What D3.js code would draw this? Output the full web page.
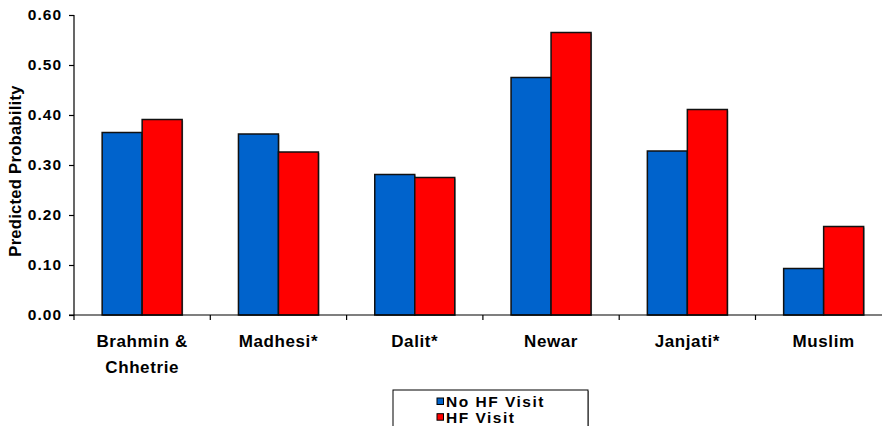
<!DOCTYPE html>
<html>
<head>
<meta charset="utf-8">
<script src="https://cdn.jsdelivr.net/npm/d3@7"></script>
<style>
  html, body { margin: 0; padding: 0; background: #fff; }
  svg { display: block; font-family: "Liberation Sans", Arial, sans-serif; font-weight: bold; }
</style>
</head>
<body>
<svg id="chart" width="882" height="426"></svg>
<script>
// Predicted probability by ethnic group, with and without a health facility visit
const categories = [["Brahmin &", "Chhetrie"], ["Madhesi*"], ["Dalit*"], ["Newar"], ["Janjati*"], ["Muslim"]];
const noVisit = [0.365, 0.362, 0.281, 0.475, 0.328, 0.093];
const visit   = [0.391, 0.326, 0.275, 0.565, 0.411, 0.177];
const seriesNames = ["No HF Visit", "HF Visit"];
const seriesColors = ["#0063CC", "#FF0000"];
const yTicks = [0, 0.1, 0.2, 0.3, 0.4, 0.5, 0.6];

const svg = d3.select("#chart");
const plotLeft = 74, plotTop = 15, plotBottom = 315, plotRight = 74 + 136.3 * 6;

const keys = categories.map((c, i) => i);
const x = d3.scaleBand().domain(keys).range([plotLeft, plotRight]).paddingInner(0).paddingOuter(0);
const x1 = d3.scaleBand().domain([0, 1]).range([0, x.bandwidth()]).paddingInner(0).paddingOuter(0.704);
const y = d3.scaleLinear().domain([0, 0.6]).range([plotBottom, plotTop]);

const rows = keys.map(i => [noVisit[i], visit[i]]);

// bars with a faint drop shadow
const groups = svg.append("g").selectAll("g").data(rows).join("g")
  .attr("transform", (d, i) => `translate(${x(i)},0)`);
groups.selectAll("rect.shadow").data(d => d).join("rect")
  .attr("class", "shadow")
  .attr("x", (d, j) => x1(j) + 1)
  .attr("y", d => y(d) + 1)
  .attr("width", x1.bandwidth())
  .attr("height", d => plotBottom - y(d))
  .attr("fill", "#a0a0a0");
groups.selectAll("rect.bar").data(d => d).join("rect")
  .attr("class", "bar")
  .attr("x", (d, j) => x1(j))
  .attr("y", d => y(d))
  .attr("width", x1.bandwidth())
  .attr("height", d => plotBottom - y(d))
  .attr("fill", (d, j) => seriesColors[j])
  .attr("stroke", "#111")
  .attr("stroke-width", 1.5);

// y axis
const yAxis = svg.append("g")
  .attr("transform", `translate(${plotLeft},0)`)
  .call(d3.axisLeft(y).tickValues(yTicks).tickFormat(d3.format(".2f")).tickSize(5).tickPadding(8));
yAxis.select(".domain").attr("stroke", "#000").attr("stroke-width", 1.2).attr("d", `M0,${plotTop}V${plotBottom}`);
yAxis.selectAll(".tick line").attr("stroke", "#000").attr("stroke-width", 1.2);
yAxis.selectAll(".tick text")
  .attr("font-family", "Liberation Sans, Arial, sans-serif")
  .attr("font-weight", "bold").attr("font-size", 15.5).attr("letter-spacing", 1)
  .attr("x", -12).attr("fill", "#000");

// x axis
const xTickPos = d3.range(categories.length + 1).map(i => plotLeft + i * x.bandwidth());
svg.append("line").attr("x1", plotLeft - 5).attr("x2", plotRight).attr("y1", plotBottom).attr("y2", plotBottom)
  .attr("stroke", "#000").attr("stroke-width", 1.2);
svg.append("g").selectAll("line").data(xTickPos).join("line")
  .attr("x1", d => d).attr("x2", d => d)
  .attr("y1", plotBottom).attr("y2", plotBottom + 5)
  .attr("stroke", "#000").attr("stroke-width", 1.2);

const labels = svg.append("g").selectAll("text").data(categories).join("text")
  .attr("x", (d, i) => x(i) + x.bandwidth() / 2)
  .attr("y", 347)
  .attr("text-anchor", "middle")
  .attr("font-size", 17)
  .attr("letter-spacing", 0.6)
  .attr("fill", "#000");
labels.selectAll("tspan").data(d => d).join("tspan")
  .attr("x", function () { return this.parentNode.getAttribute("x"); })
  .attr("dy", (d, k) => k === 0 ? 0 : 26)
  .text(d => d);

// y axis title
svg.append("text")
  .attr("transform", "translate(21,171) rotate(-90)")
  .attr("text-anchor", "middle")
  .attr("font-size", 16.5)
  .attr("letter-spacing", 0.3)
  .attr("fill", "#000")
  .text("Predicted Probability");

// legend
const lg = svg.append("g").attr("transform", "translate(393,390)");
lg.append("rect").attr("x", 1).attr("y", 1).attr("width", 195).attr("height", 40).attr("fill", "#999");
lg.append("rect").attr("width", 195).attr("height", 40).attr("fill", "#fff").attr("stroke", "#000").attr("stroke-width", 1);
seriesNames.forEach((name, j) => {
  lg.append("rect").attr("x", 44).attr("y", 8 + j * 15.7).attr("width", 6.5).attr("height", 6.5)
    .attr("fill", seriesColors[j]).attr("stroke", "#000").attr("stroke-width", 1);
  lg.append("text").attr("x", 53).attr("y", 17.3 + j * 15.7)
    .attr("font-size", 15.5).attr("letter-spacing", 1.5).attr("fill", "#000").text(name);
});
</script>
</body>
</html>
